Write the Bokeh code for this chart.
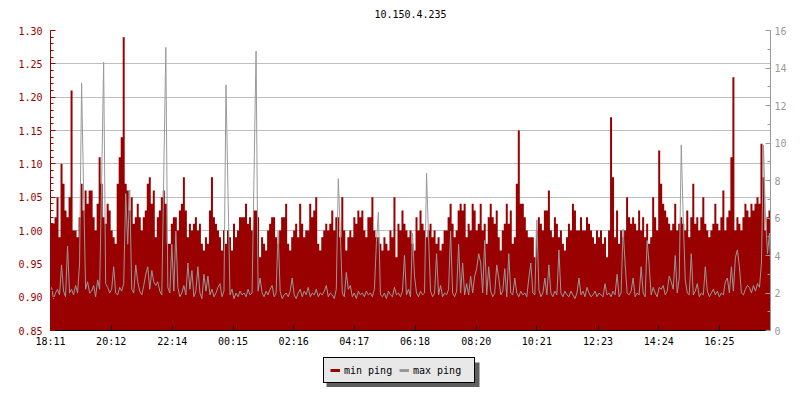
import numpy as np
from bokeh.plotting import figure
from bokeh.layouts import column
from bokeh.models import (Range1d, LinearAxis, FixedTicker, Legend, LegendItem,
                          BoxAnnotation, NumeralTickFormatter, Label)
from bokeh.embed import file_html
from bokeh.resources import INLINE

title_text = "10.150.4.235"
time_labels = ["18:11", "20:12", "22:14", "00:15", "02:16", "04:17",
               "06:18", "08:20", "10:21", "12:23", "14:24", "16:25"]
span_minutes = 1436
sample_minutes = 4

left_ticks = [0.85, 0.90, 0.95, 1.00, 1.05, 1.10, 1.15, 1.20, 1.25, 1.30]
right_ticks = [0, 2, 4, 6, 8, 10, 12, 14, 16]

min_ping = [
    1.01, 1.01, 1.02, 1.05, 0.99, 1.10, 1.07, 1.03, 1.02, 1.05,
    1.21, 1.00, 1.00, 0.99, 1.02, 1.07, 1.03, 1.06, 1.04, 1.06,
    1.06, 1.02, 1.00, 1.04, 1.11, 1.07, 1.02, 1.01, 1.04, 1.03,
    1.00, 0.99, 0.98, 1.07, 1.11, 1.14, 1.29, 1.07, 1.06, 1.03,
    1.05, 1.01, 1.02, 1.04, 1.02, 1.00, 1.02, 1.03, 1.07, 1.08,
    1.04, 1.06, 0.99, 1.02, 1.03, 1.05, 1.06, 1.04, 0.98, 0.98,
    1.01, 1.02, 1.02, 1.00, 1.03, 1.04, 1.08, 1.03, 0.99, 1.01,
    1.00, 1.01, 1.02, 1.00, 1.01, 0.98, 0.97, 0.99, 0.98, 1.03,
    1.08, 1.02, 1.01, 1.00, 0.99, 0.97, 1.00, 0.98, 1.00, 0.99,
    0.97, 1.01, 0.99, 1.00, 1.02, 1.02, 1.02, 1.04, 1.01, 1.02,
    1.00, 1.03, 1.03, 1.02, 0.96, 0.99, 0.98, 0.97, 1.00, 1.01,
    1.02, 1.02, 0.99, 0.98, 1.00, 1.02, 1.02, 1.04, 0.98, 0.97,
    0.99, 1.00, 1.01, 0.99, 1.04, 1.01, 0.99, 1.00, 1.00, 1.04,
    1.02, 1.03, 1.05, 0.98, 0.97, 0.99, 1.00, 1.01, 1.00, 1.01,
    1.03, 1.00, 1.02, 1.02, 0.99, 1.05, 1.00, 0.97, 0.99, 1.00,
    0.99, 1.02, 1.01, 1.03, 1.02, 1.03, 1.00, 0.99, 1.02, 1.02,
    1.05, 1.00, 0.99, 0.99, 0.98, 0.97, 0.99, 0.98, 0.97, 1.00,
    0.99, 1.05, 0.96, 1.01, 1.00, 1.03, 1.01, 1.00, 0.99, 1.00,
    0.98, 0.97, 1.02, 1.00, 1.03, 1.01, 1.00, 0.99, 1.00, 1.01,
    0.99, 1.00, 0.98, 0.99, 0.97, 0.98, 1.00, 1.00, 1.02, 1.04,
    1.01, 0.99, 1.00, 1.03, 1.04, 1.03, 1.04, 0.99, 1.01, 1.00,
    1.04, 1.03, 1.00, 1.01, 1.04, 1.00, 1.01, 0.98, 1.02, 1.04,
    1.02, 1.01, 1.03, 0.99, 0.97, 1.00, 1.01, 1.04, 1.01, 1.03,
    0.98, 0.99, 1.07, 1.15, 1.04, 1.04, 1.02, 1.00, 0.99, 0.99,
    0.99, 0.96, 1.00, 1.02, 1.01, 1.00, 1.03, 1.03, 1.06, 1.00,
    0.99, 1.02, 1.01, 0.99, 1.00, 0.98, 0.97, 0.99, 1.01, 1.00,
    1.04, 1.03, 1.00, 1.00, 1.02, 1.00, 1.00, 1.02, 1.01, 1.00,
    0.99, 0.98, 1.00, 0.99, 1.00, 0.98, 0.99, 0.96, 1.00, 1.17,
    1.08, 0.99, 1.03, 0.98, 1.00, 0.99, 1.00, 1.05, 1.02, 1.01,
    1.02, 1.01, 1.00, 1.03, 1.00, 1.02, 0.99, 1.01, 0.98, 0.99,
    1.05, 1.02, 1.00, 1.12, 1.07, 1.04, 1.03, 1.02, 1.01, 1.00,
    1.01, 1.04, 1.00, 1.01, 1.02, 1.01, 1.00, 1.03, 0.99, 1.02,
    1.07, 1.01, 1.02, 1.00, 1.02, 1.05, 1.01, 1.00, 0.99, 1.00,
    1.01, 1.04, 1.01, 1.00, 1.02, 1.06, 1.00, 1.02, 1.03, 1.11,
    1.23, 1.00, 1.02, 1.01, 1.00, 1.02, 1.04, 1.03, 1.02, 1.04,
    1.03, 1.04, 1.05, 1.04, 1.13, 1.08, 1.00, 1.02, 1.03, 1.01,
]

max_ping = [
    2.3, 1.7, 2.0, 2.2, 1.9, 3.5, 2.1, 1.8, 4.5, 2.0,
    2.2, 1.9, 2.4, 2.0, 3.6, 13.2, 7.5, 2.2, 2.6, 2.0,
    2.1, 2.4, 1.8, 2.7, 2.2, 8.0, 14.3, 2.5, 2.3, 2.0,
    2.2, 3.4, 2.0, 1.9, 2.3, 2.1, 2.5, 7.3, 4.6, 7.5,
    2.2, 2.0, 3.5, 2.6, 2.1, 1.9, 2.4, 3.0, 3.4, 2.2,
    3.2, 2.6, 2.4, 2.6, 2.1, 1.9, 8.5, 15.1, 2.3, 2.0,
    4.6, 2.1, 5.3, 2.3, 1.8, 2.0, 2.4, 1.9, 3.6, 2.2,
    3.2, 1.8, 2.1, 3.4, 2.0, 1.7, 3.0, 2.1, 2.9, 1.9,
    2.2, 1.8, 2.0, 2.3, 2.5, 1.8, 2.1, 13.1, 7.4, 1.9,
    2.2, 1.7, 2.0, 1.8, 2.1, 1.9, 2.0, 1.8, 2.2, 1.9,
    2.0, 8.5, 14.9, 2.1, 2.8, 2.0, 1.8, 2.1, 1.9, 2.2,
    2.4, 1.8, 2.0, 5.3, 2.1, 1.7, 1.9, 2.0, 1.8, 2.1,
    2.8, 1.9, 1.7, 2.0, 2.2, 1.8, 2.1, 1.9, 2.3, 1.8,
    2.0, 1.9, 2.2, 1.8, 2.0, 1.9, 2.1, 2.4, 1.8, 2.0,
    1.9, 1.7, 2.2, 8.1, 5.2, 2.0, 1.8, 3.1, 2.2, 2.4,
    1.8, 2.0, 1.7, 2.1, 1.9, 2.0, 1.8, 2.1, 1.9, 2.0,
    1.8, 2.2, 4.7, 6.3, 1.9, 1.8, 2.0, 1.7, 2.1, 1.9,
    1.8, 2.3, 1.9, 2.0, 1.8, 2.1, 4.0, 1.9, 2.2, 1.8,
    5.2, 2.9, 2.0, 1.8, 2.1, 1.9, 2.0, 8.4, 5.0, 2.1,
    1.8, 2.0, 4.1, 1.9, 2.4, 1.8, 2.0, 1.9, 2.2, 5.3,
    2.0, 1.8, 2.1, 4.6, 2.0, 3.6, 1.9, 2.5, 1.9, 2.9,
    2.0, 2.9, 3.3, 4.1, 3.6, 2.0, 4.8, 1.9, 3.4, 2.1,
    1.8, 2.0, 3.5, 2.8, 1.9, 2.1, 3.3, 1.8, 4.1, 2.0,
    1.9, 2.8, 2.0, 1.8, 2.1, 1.9, 2.0, 1.8, 2.8, 3.6,
    2.0, 1.9, 5.9, 2.2, 1.8, 2.0, 2.8, 1.9, 3.5, 2.0,
    1.8, 2.1, 1.9, 4.3, 2.0, 1.8, 2.1, 1.9, 1.8, 2.1,
    1.9, 1.7, 2.0, 2.8, 1.9, 2.1, 1.8, 2.3, 2.0, 1.8,
    1.9, 2.1, 1.8, 2.0, 1.9, 1.8, 2.5, 1.9, 2.0, 1.8,
    2.1, 1.9, 3.0, 1.8, 2.0, 5.4, 3.6, 2.0, 1.9, 2.1,
    2.8, 1.8, 2.0, 1.9, 3.4, 2.0, 1.8, 4.8, 3.5, 1.9,
    2.3, 2.0, 1.8, 2.3, 2.2, 2.4, 1.9, 2.1, 2.9, 2.6,
    2.2, 4.0, 2.0, 2.8, 9.9, 5.9, 2.7, 2.0, 1.9, 4.1,
    1.9, 2.1, 2.5, 1.8, 2.0, 1.9, 3.4, 2.1, 1.8, 2.0,
    2.2, 1.9, 2.1, 1.8, 2.0, 1.9, 2.6, 2.8, 2.0, 3.4,
    2.1, 3.9, 4.3, 3.4, 2.0, 1.9, 2.2, 2.4, 2.3, 2.0,
    2.4, 2.1, 2.5, 2.3, 3.6, 9.9, 6.0, 4.1, 5.2, 2.3,
]

RED = "#990000"
GREY = "#999999"
FONT = "DejaVu Sans Mono"

# sample times (minutes after the first label)
t_start = np.arange(len(min_ping)) * sample_minutes
t_mid = t_start + sample_minutes / 2


def to_minutes(lbl):
    h, m = lbl.split(":")
    return int(h) * 60 + int(m)


t0 = to_minutes(time_labels[0])
tick_pos = [(to_minutes(l) - t0) % 1440 for l in time_labels]


def strip(height):
    """A plain pixel-unit strip whose frame lines up with the chart frame."""
    f = figure(width=792, height=height, output_backend="svg", toolbar_location=None,
               x_range=Range1d(50, 770), y_range=Range1d(0, height),
               min_border=0, min_border_left=0, min_border_right=0,
               min_border_top=0, min_border_bottom=0,
               x_axis_type=None, y_axis_type=None, outline_line_color=None,
               background_fill_color="white", border_fill_color="white")
    f.grid.visible = False
    return f


# title strip
t = strip(22)
t.add_layout(Label(x=410, y=8.7, text=title_text, text_align="center",
                   text_baseline="middle", text_font=FONT, text_font_size="10px",
                   text_color="black"))

p = figure(width=792, height=328, output_backend="svg", toolbar_location=None,
           title=None,
           x_range=Range1d(0, span_minutes),
           y_range=Range1d(left_ticks[0], left_ticks[-1]),
           min_border_left=50, min_border_right=22, min_border_top=8,
           min_border_bottom=20, outline_line_color=None,
           background_fill_color="white", border_fill_color="white")
p.extra_y_ranges = {"max": Range1d(right_ticks[0], right_ticks[-1])}

# left axis
left_minor = [round(v, 2) for v in np.arange(left_ticks[0], left_ticks[-1] + 0.001, 0.01)]
lt = FixedTicker(ticks=left_ticks, minor_ticks=left_minor)
ya = p.yaxis[0]
ya.ticker = lt
ya.formatter = NumeralTickFormatter(format="0.00")
ya.axis_line_color = RED
ya.major_tick_line_color = RED
ya.minor_tick_line_color = RED
ya.major_label_text_color = RED
ya.major_tick_in = 5
ya.major_tick_out = 0
ya.minor_tick_in = 3
ya.minor_tick_out = 0
ya.major_label_standoff = 8
ya.major_label_text_font = FONT
ya.major_label_text_font_size = "10px"

# right axis
rt = FixedTicker(ticks=right_ticks,
                 minor_ticks=list(range(right_ticks[0], right_ticks[-1] + 1)))
ra = LinearAxis(y_range_name="max", ticker=rt)
ra.axis_line_color = GREY
ra.major_tick_line_color = GREY
ra.minor_tick_line_color = GREY
ra.major_label_text_color = GREY
ra.major_tick_in = 5
ra.major_tick_out = 0
ra.minor_tick_in = 3
ra.minor_tick_out = 0
ra.major_label_standoff = 4
ra.major_label_text_font = FONT
ra.major_label_text_font_size = "10px"
p.add_layout(ra, "right")

# bottom axis
xa = p.xaxis[0]
xa.ticker = FixedTicker(ticks=tick_pos, minor_ticks=[])
xa.major_label_overrides = {pos: lbl for pos, lbl in zip(tick_pos, time_labels)}
xa.axis_line_color = "black"
xa.major_tick_line_color = "black"
xa.major_tick_in = 5
xa.major_tick_out = 0
xa.minor_tick_line_color = None
xa.major_label_standoff = 5
xa.major_label_text_font = FONT
xa.major_label_text_font_size = "10px"
xa.major_label_text_color = "black"

# grid
p.xgrid.visible = False
p.ygrid.ticker = lt
p.ygrid.grid_line_color = "#bfbfbf"

# data: min ping as a stepped filled area, max ping as a line on the right axis
p.varea_step(x=t_start, y1=left_ticks[0], y2=min_ping, step_mode="after",
             fill_color=RED, fill_alpha=1)
p.line(x=t_mid, y=max_ping, y_range_name="max", line_color=GREY, line_width=1)

# legend strip below the chart
q = strip(42)

# single-point proxies (draw nothing) that give the legend its line swatches
r_min = q.line(x=[t_mid[0]], y=[min_ping[0]], line_color=RED, line_width=3)
r_max = q.line(x=[t_mid[0]], y=[max_ping[0]], line_color=GREY, line_width=3)

shadow = BoxAnnotation(left=326, right=479, bottom=5.5, top=30,
                       fill_color="#5e5e5e", fill_alpha=1, line_color=None)
q.add_layout(shadow)

legend = Legend(items=[LegendItem(label="min ping", renderers=[r_min]),
                       LegendItem(label="max ping", renderers=[r_max])],
                location=(273, 9), orientation="horizontal",
                background_fill_color="#e8e8e8", background_fill_alpha=1,
                border_line_color="black", border_line_width=1, border_line_alpha=1,
                padding=6, spacing=0, margin=0, glyph_width=10, glyph_height=12,
                label_height=12, label_width=55, label_standoff=4,
                label_text_font=FONT, label_text_font_size="10px",
                label_text_color="black")
q.add_layout(legend)

page = column(t, p, q, spacing=0)
open("out.html", "w").write(file_html(page, INLINE))
